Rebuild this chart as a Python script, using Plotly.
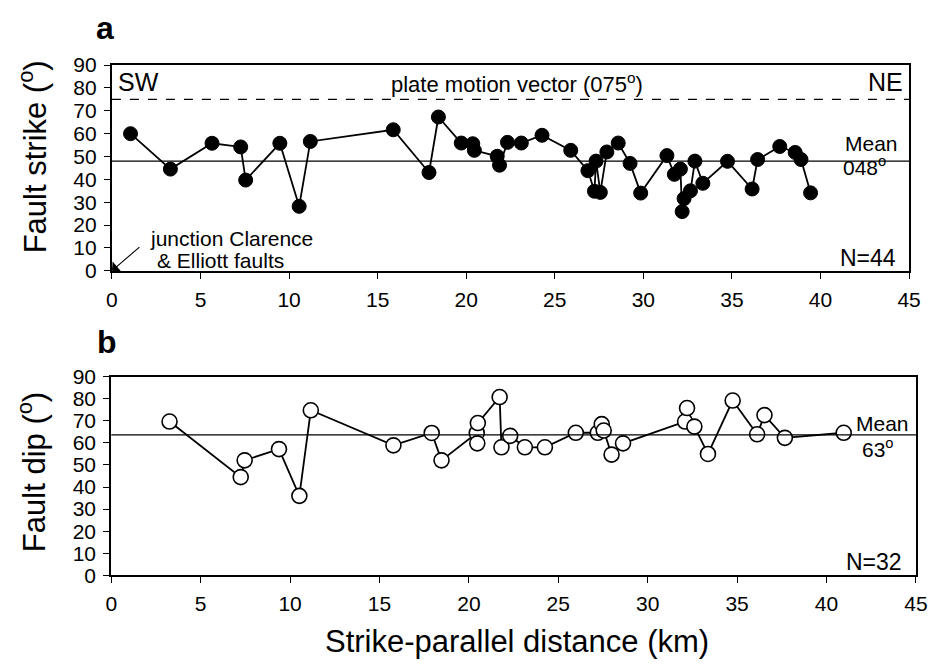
import plotly.graph_objects as go

# ---- data ----
strike_km = [1.05, 3.3, 5.65, 7.27, 7.55, 9.48, 10.57, 11.2, 15.88, 17.9, 18.43,
             19.72, 20.37, 20.46, 21.75, 21.88, 22.33, 23.11, 24.28, 25.9, 26.87,
             27.24, 27.33, 27.57, 27.94, 28.58, 29.25, 29.85, 31.33, 31.75, 32.09,
             32.19, 32.3, 32.66, 32.91, 33.36, 34.75, 36.14, 36.45, 37.7, 38.57,
             38.9, 39.44]
strike_deg = [60.0, 44.5, 55.8, 54.2, 39.7, 55.8, 28.2, 56.6, 61.7, 43.0, 67.3,
              55.9, 55.6, 52.7, 50.1, 46.2, 56.2, 55.9, 59.3, 52.7, 43.8,
              34.8, 48.0, 34.3, 52.0, 55.9, 47.0, 34.0, 50.4, 42.2, 44.5,
              25.9, 31.6, 35.0, 48.0, 38.3, 47.9, 35.8, 48.7, 54.4, 51.8,
              48.7, 34.1]

dip_km = [3.26, 7.24, 7.46, 9.38, 10.52, 11.16, 15.78, 17.92, 18.47, 20.44, 20.47,
          20.5, 21.72, 21.82, 22.31, 23.13, 24.25, 25.98, 27.21, 27.43, 27.54,
          27.98, 28.62, 32.09, 32.2, 32.61, 33.37, 34.75, 36.12, 36.53, 37.67, 40.96]
dip_deg = [69.7, 44.5, 52.1, 57.2, 36.0, 74.8, 58.9, 64.5, 52.1, 64.5, 59.8,
           69.0, 80.8, 58.0, 63.2, 58.0, 58.0, 64.6, 64.6, 68.5, 65.6,
           54.7, 59.8, 69.7, 75.8, 67.4, 55.0, 79.2, 63.9, 72.6, 62.3, 64.6]

mean_strike = 48
mean_dip = 63.6
plate_motion = 75
x_ticks = [0, 5, 10, 15, 20, 25, 30, 35, 40, 45]
y_ticks = [0, 10, 20, 30, 40, 50, 60, 70, 80, 90]

FONT = "Liberation Sans, Arial, sans-serif"
W, H = 940, 670

def px(x):
    return x / W

def py(y):
    return 1 - y / H

fig = go.Figure()

fig.add_trace(go.Scatter(
    x=strike_km, y=strike_deg, mode="lines+markers",
    line=dict(color="black", width=1.8),
    marker=dict(size=14, color="black", line=dict(color="black", width=1)),
    xaxis="x", yaxis="y", showlegend=False, cliponaxis=False))

fig.add_trace(go.Scatter(
    x=dip_km, y=dip_deg, mode="lines+markers",
    line=dict(color="black", width=1.8),
    marker=dict(size=15, color="white", line=dict(color="black", width=1.6)),
    xaxis="x2", yaxis="y2", showlegend=False, cliponaxis=False))

axis_common = dict(
    showgrid=False, zeroline=False, showline=True, linecolor="black", linewidth=2,
    mirror=True, ticks="outside", ticklen=6, tickwidth=1, tickcolor="black",
    tickfont=dict(family=FONT, size=21, color="black"), ticklabelstandoff=3,
)

fig.update_layout(
    width=W, height=H, margin=dict(l=0, r=0, t=0, b=0),
    paper_bgcolor="white", plot_bgcolor="white",
    font=dict(family=FONT, color="black"),
    xaxis=dict(domain=[px(108), px(920.7)], range=[0, 45], tickvals=x_ticks,
               anchor="y", **axis_common),
    yaxis=dict(domain=[py(268), py(55)], range=[0, 90], tickvals=y_ticks,
               anchor="x", **axis_common),
    xaxis2=dict(domain=[px(107.3), px(927.7)], range=[0, 45], tickvals=x_ticks,
                anchor="y2", **axis_common),
    yaxis2=dict(domain=[py(583.3), py(377.7)], range=[0, 90], tickvals=y_ticks,
                anchor="x2", **axis_common),
)

# reference lines
fig.add_shape(type="line", xref="x domain", yref="y", x0=0, x1=1,
              y0=mean_strike, y1=mean_strike, line=dict(color="black", width=1.3))
fig.add_shape(type="line", xref="x domain", yref="y", x0=0, x1=1,
              y0=plate_motion, y1=plate_motion,
              line=dict(color="black", width=1.3, dash="dash"))
fig.add_shape(type="line", xref="x2 domain", yref="y2", x0=0, x1=1,
              y0=mean_dip, y1=mean_dip, line=dict(color="black", width=1.3))

def txt(text, x, y, size, xanchor="center", yanchor="middle", bold=False, angle=0, align="left"):
    if bold:
        text = "<b>" + text + "</b>"
    fig.add_annotation(text=text, x=px(x), y=py(y), xref="paper", yref="paper",
                       showarrow=False, xanchor=xanchor, yanchor=yanchor,
                       textangle=angle, align=align,
                       font=dict(family=FONT, size=size, color="black"))

# panel labels
txt("a", 101, 17, 32, bold=True)
txt("b", 103, 342, 32, bold=True)

# axis titles
txt("Fault strike (<sup>o</sup>)", 27, 150, 31, angle=-90)
txt("Fault dip (<sup>o</sup>)", 26, 477, 31, angle=-90)
txt("Strike-parallel distance (km)", 521, 652, 31)

# in-plot text, panel a
txt("SW", 112, 73, 25, xanchor="left")
txt("NE", 917, 73, 25, xanchor="right")
txt("plate motion vector (075<sup>o</sup>)", 521, 74, 22)
txt("Mean", 853, 150, 21, xanchor="left", yanchor="bottom")
txt("048<sup>o</sup>", 851, 144, 21, xanchor="left", yanchor="top")
txt("N=44", 909, 255, 23, xanchor="right")
txt("junction Clarence", 145, 235, 21, xanchor="left")
txt("&amp; Elliott faults", 152, 257, 21, xanchor="left")

# arrow to junction at origin
fig.add_annotation(x=0, y=0, xref="x", yref="y", text="", showarrow=True,
                   ax=29, ay=-25, arrowhead=1, arrowsize=2, arrowwidth=1.1,
                   arrowcolor="black", standoff=0)

# in-plot text, panel b
txt("Mean", 865, 440, 21, xanchor="left", yanchor="bottom")
txt("63<sup>o</sup>", 871, 436, 21, xanchor="left", yanchor="top")
txt("N=32", 916, 570, 23, xanchor="right")

fig.write_html("out.html")
